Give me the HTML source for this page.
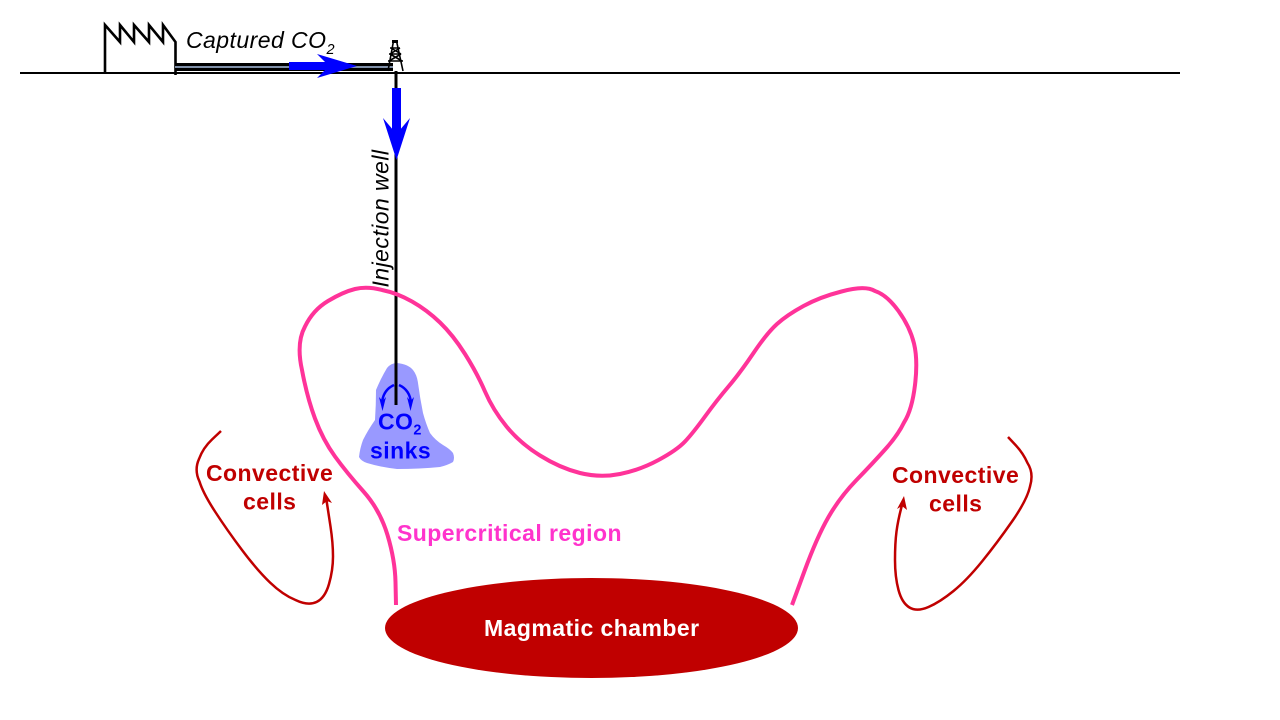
<!DOCTYPE html>
<html><head><meta charset="utf-8"><style>
html,body{margin:0;padding:0;background:#fff}
svg{display:block}
text{font-family:"Liberation Sans",sans-serif;letter-spacing:.45px}
tspan{letter-spacing:0}
</style></head><body>
<svg width="1280" height="720" viewBox="0 0 1280 720" xmlns="http://www.w3.org/2000/svg">
<rect width="1280" height="720" fill="#fff"/>
<!-- sink -->
<path d="M397 363 Q408 364 413 370 Q417 375 418 383 Q420 398 423 413 Q426 424 430 433 Q435 440 443 445 Q450 449 453 453 Q455 458 453 462 Q448 465 440 467 Q420 469 397 469 Q380 467 367 463 Q361 461 359 457 Q360 448 363 440 Q368 430 375 420 Q376 405 376 390 Q381 378 387 368 Q391 363 397 363 Z" fill="#9999ff"/>
<!-- ground -->
<line x1="20" y1="73" x2="1180" y2="73" stroke="#000" stroke-width="2"/>
<!-- factory -->
<path d="M105 74 V25 L120 42 V25 L134 42 V25 L149 42 V25 L163 42 V25 L175.500 42 V75" fill="none" stroke="#000" stroke-width="2.600"/>
<!-- pipe -->
<rect x="175" y="63" width="218" height="8" fill="#000"/>
<rect x="175" y="66" width="218" height="2" fill="#8090a8"/>
<!-- rig -->
<g fill="none" stroke="#000" stroke-width="1.600">
<path d="M393.500 41 L388 71 M396.500 41 L403 71 M390 48 H400 M389 54 H401 M388 61 H403 M391 48 L401 54 M400 48 L390 54 M390 54 L402 61 M401 54 L389 61"/>
</g>
<rect x="392" y="40" width="6" height="3" fill="#000"/>
<!-- well -->
<line x1="396" y1="71" x2="396" y2="405" stroke="#000" stroke-width="3"/>
<!-- blue arrows -->
<rect x="289" y="62" width="44" height="8" fill="#0000ff"/>
<path d="M317 54 L357 66 L317 78 L329 66 Z" fill="#0000ff"/>
<rect x="392" y="88" width="9" height="46" fill="#0000ff"/>
<path d="M383 118 L396.500 160 L410 118 L396.500 134 Z" fill="#0000ff"/>
<!-- supercritical -->
<path d="M396 605 L395.500 582 Q395 560 387.500 535 Q380 510 363.500 491.500 Q347 473 335 456.500 Q323 440 315 418.500 Q307 397 302 370 Q296 343 305 326.500 Q313 310 328 301 Q343 292 355 289 Q367 286 382 290 Q397 293 412 301.500 Q427 310 440 322.500 Q453 335 465 354 Q477 373 485 391.500 Q493 410 506.500 426.500 Q520 443 540 455.500 Q560 468 580 473 Q600 478 620 474 Q640 470 658.500 460 Q677 450 685 441.500 Q693 433 705 416.500 Q717 400 728.500 386.500 Q740 373 753.500 353 Q767 333 777 324 Q787 315 803.500 306 Q820 297 841.500 291.500 Q865 285 875 291 Q887 295 898.500 311 Q910 327 914 343.500 Q918 360 915 385 Q912 410 904 422.500 Q898 435 885.500 449 Q873 463 856.500 480 Q840 497 828.500 517 Q817 537 804.500 571 L792 605" fill="none" stroke="#ff3399" stroke-width="4"/>
<!-- chamber -->
<ellipse cx="591.500" cy="628" rx="206.500" ry="50" fill="#c00000"/>
<!-- convective left -->
<path d="M221 431 L212 439.500 Q203 448 199 459 Q194 470 199.500 481.500 Q203 493 215 511.500 Q227 530 242 550 Q257 570 270 582.500 Q283 595 295.500 600 Q308 606 316.500 602 Q325 598 329 584 Q333 570 333 556.500 Q333 543 330.500 526.500 Q328 510 326 497" fill="none" stroke="#c00000" stroke-width="2.500"/>
<path d="M324 491 L332 503 L327 501 L322 505 Z" fill="#c00000"/>
<!-- convective right -->
<path d="M1008 437 L1015.500 445 Q1023 453 1027.500 463 Q1034 473 1030 486.500 Q1027 500 1012 521.500 Q997 543 982 561.500 Q967 580 953.500 591 Q940 602 928.500 607 Q917 612 909.500 607.500 Q902 603 898.500 590 Q895 577 895 560 Q895 543 896.500 531.500 Q898 520 902 505" fill="none" stroke="#c00000" stroke-width="2.500"/>
<path d="M904 496 L907 510 L902 506 L897 509 Z" fill="#c00000"/>
<!-- small blue arrows in sink -->
<path d="M394 385 Q383 390 382 403" fill="none" stroke="#0000ff" stroke-width="2.500"/>
<path d="M399 385 Q410 390 411 403" fill="none" stroke="#0000ff" stroke-width="2.500"/>
<path d="M379 397 L382.500 411 L386 397 L382.500 401 Z" fill="#0000ff"/>
<path d="M407 397 L410.500 411 L414 397 L410.500 401 Z" fill="#0000ff"/>
<!-- labels -->
<text x="186" y="48" font-size="23" font-style="italic">Captured CO<tspan font-size="14.500" dy="6">2</tspan></text>
<text transform="translate(388.500,287.500) rotate(-90)" font-size="23" font-style="italic">Injection well</text>
<text x="378" y="429.500" font-size="23" font-weight="bold" fill="#0000ff">CO<tspan font-size="14.500" dy="5">2</tspan></text>
<text x="370" y="458.500" font-size="23" font-weight="bold" fill="#0000ff">sinks</text>
<text x="206" y="481" font-size="23" font-weight="bold" fill="#c00000">Convective</text>
<text x="243" y="509.500" font-size="23" font-weight="bold" fill="#c00000">cells</text>
<text x="892" y="483" font-size="23" font-weight="bold" fill="#c00000">Convective</text>
<text x="929" y="511.500" font-size="23" font-weight="bold" fill="#c00000">cells</text>
<text x="397" y="541" font-size="23" font-weight="bold" fill="#ff33cc">Supercritical region</text>
<text x="484" y="636" font-size="23" font-weight="bold" fill="#fff">Magmatic chamber</text>
</svg>
</body></html>
